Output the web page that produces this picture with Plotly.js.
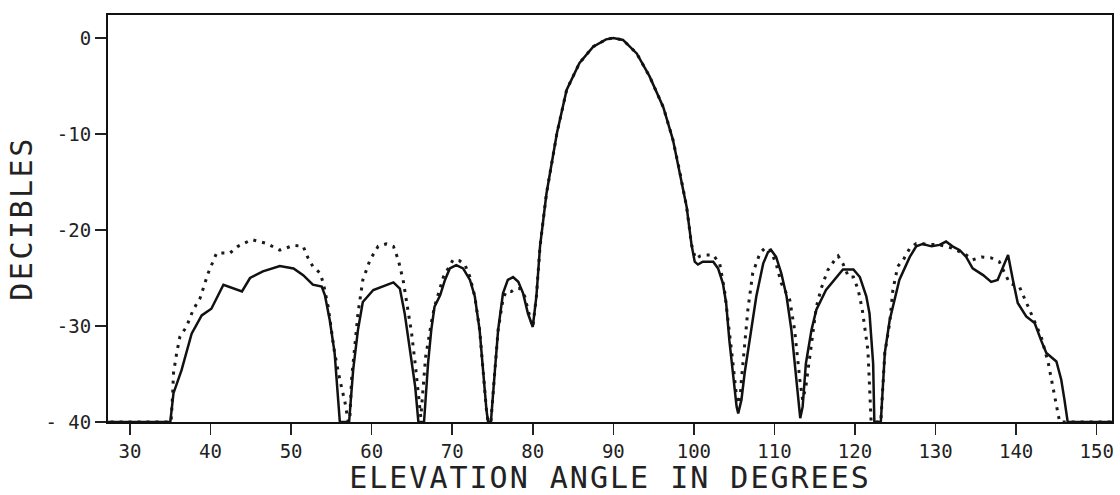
<!DOCTYPE html>
<html>
<head>
<meta charset="utf-8">
<script src="https://cdn.plot.ly/plotly-3.0.1.min.js"></script>
<style>
  html, body { margin: 0; padding: 0; background: #fff; }
  #chart { width: 1120px; height: 495px; }
  .xtitle { letter-spacing: 2px; }
  .ytitle { letter-spacing: 2.5px; }
</style>
</head>
<body>
<div id="chart"></div>
<script>
// Solid curve (elevation angle in degrees, decibels)
const solidAngle = [22, 35.0, 35.4, 36.4, 37.65, 38.9, 40.1, 41.6, 43.9, 44.9, 46.5, 48.6, 50.3, 51.5, 52.7, 53.8, 54.2, 54.8, 55.4, 55.8, 56.05,
  57.2, 57.7, 58.3, 58.9, 60.2, 61.4, 62.7, 63.5, 64.1, 64.7, 65.4, 65.8,
  66.5, 67.0, 67.4, 67.8, 68.5, 69.1, 69.7, 70.5, 71.35, 72.2, 72.8, 73.4, 73.8, 74.25, 74.45,
  74.8, 75.3, 75.7, 76.3, 76.9, 77.55, 78.2, 78.8, 79.4, 80.0, 80.45, 80.9, 81.7, 83.0, 84.2, 85.8, 87.5, 89.1, 90, 91.2, 92.9, 94.5, 96.2, 97.4, 98.2, 99.1, 99.7, 100.1, 100.5, 101.1, 102.4, 103.0, 103.6, 104.0, 104.4, 104.85, 105.3, 105.5,
  105.9, 106.3, 106.9, 107.75, 108.6, 109.2, 109.6, 110.2, 110.85, 111.5, 112.1, 112.7, 113.2,
  113.5, 113.9, 114.6, 115.2, 116.4, 117.7, 118.5, 119.8, 120.6, 121.4, 121.8, 122.25, 122.4,
  123.2, 123.7, 124.3, 125.5, 126.8, 127.6, 128.4, 129.5, 130.5, 131.3, 132.1, 133.0, 133.8, 134.6, 135.9, 136.9, 137.7, 138.35, 139.0, 139.6, 140.2, 141.25, 142.3, 143.1, 143.75, 145.0, 145.6, 146.0, 146.4, 152];
const solidDb = [-40, -40, -37, -34.6, -30.8, -28.9, -28.2, -25.7, -26.4, -25.0, -24.3, -23.75, -24.0, -24.7, -25.7, -25.9, -26.8, -29.4, -32.8, -36.7, -40,
  -40, -34.6, -30.4, -27.5, -26.25, -25.9, -25.45, -26.1, -28.7, -32.2, -36.3, -40,
  -40, -33.9, -30.4, -28, -26.8, -25.2, -24.0, -23.65, -24.0, -25.2, -26.9, -30.4, -34.6, -38.75, -40,
  -40, -34.6, -30.4, -26.6, -25.2, -24.9, -25.4, -26.6, -28.7, -30.1, -26.9, -21.7, -16.2, -9.9, -5.4, -2.6, -0.9, -0.14, 0, -0.2, -1.6, -4.0, -7.2, -10.6, -13.75, -17.6, -21.5, -23.3, -23.6, -23.3, -23.3, -24.0, -25.55, -27.6, -31.5, -34.9, -38.4, -39.1,
  -37.7, -34.9, -31.5, -26.9, -23.5, -22.3, -22.1, -22.8, -24.5, -26.9, -30.4, -35.3, -39.6,
  -38.4, -33.9, -30.4, -28.3, -26.25, -24.9, -24.1, -24.1, -24.9, -26.9, -28.7, -33.9, -40,
  -40, -32.8, -29.4, -25.2, -22.8, -21.7, -21.45, -21.7, -21.55, -21.2, -21.7, -22.1, -22.8, -24.0, -24.7, -25.4, -25.2, -23.8, -22.6, -25.2, -27.6, -29.0, -29.7, -31.5, -32.8, -33.7, -35.6, -37.7, -40, -40];

// Dotted curve
const dottedAngle = [22, 35.1, 35.3, 35.4, 35.8, 36.2, 37.0, 37.85, 38.7, 39.7, 40.75, 42.4, 43.4, 45.1, 46.95, 48.6, 50.3, 51.5, 52.1, 52.7, 53.6, 54.0, 54.6, 55.4, 56.05, 56.7, 57.1,
  57.3, 57.5, 57.9, 58.3, 58.9, 59.8, 60.8, 61.8, 62.7, 63.3, 63.9, 64.5, 64.95, 65.4, 65.8, 66.1,
  66.4, 66.7, 67.4, 67.8, 68.9, 70.1, 70.9, 71.6, 72.2, 72.8, 73.4, 73.8, 74.25, 74.45,
  74.8, 75.3, 75.7, 76.3, 76.7, 77.35, 77.8, 78.4, 79.0, 79.4, 80.0, 80.45, 80.9, 81.7, 83.0, 84.2, 85.8, 87.5, 89.1, 90, 91.2, 92.9, 94.5, 96.2, 97.4, 98.2, 99.1, 99.7, 100.2, 100.8, 101.4, 102.4, 103.2, 103.8, 104.4, 104.85, 105.3, 105.7,
  105.9, 106.3, 106.7, 107.3, 108.2, 108.8, 109.4, 110.2, 110.85, 111.9, 112.5, 113.15, 113.5,
  113.9, 114.4, 114.8, 115.2, 115.8, 116.6, 117.5, 117.9, 118.5, 119.2, 119.8, 120.4, 120.9, 121.2, 121.6, 122.0,
  123.2, 123.7, 124.3, 124.7, 125.3, 126.0, 126.8, 127.6, 128.9, 130.5, 132.1, 133.8, 134.6, 135.7, 136.9, 137.9, 139.2, 140.4, 141.5, 142.6, 143.1, 144.0, 144.4, 144.85, 145.2, 145.4, 152];
const dottedDb = [-40, -40, -37, -34.9, -32.8, -31.1, -30.1, -28.3, -27.1, -24.5, -22.4, -22.4, -21.7, -21.0, -21.4, -22.1, -21.6, -21.7, -22.9, -23.8, -24.5, -25.55, -28, -32.8, -35.6, -38, -40,
  -39.4, -35.6, -32.2, -28.7, -25.2, -23.1, -21.7, -21.45, -21.7, -23.1, -25.2, -28.3, -30.7, -33.9, -37, -39.5,
  -36.3, -33.2, -29.7, -28, -24.9, -23.1, -23.2, -23.65, -24.9, -26.9, -30.4, -34.6, -38.75, -40,
  -40, -34.6, -30.4, -27.2, -26.4, -26.4, -26.1, -26.1, -26.9, -28.3, -30.1, -26.9, -21.7, -16.2, -9.9, -5.4, -2.6, -0.9, -0.14, 0, -0.2, -1.6, -4.0, -7.2, -10.6, -13.75, -17.6, -21.5, -23.0, -22.7, -22.6, -22.6, -23.5, -26.25, -30.4, -33.9, -37.4, -38.1,
  -35.6, -31.5, -28.3, -24.5, -22.4, -21.9, -21.9, -23.5, -25.55, -27.3, -30.4, -35.6, -37.7,
  -36.3, -33.2, -30.4, -28, -26.1, -24.2, -23.1, -22.7, -23.5, -24.9, -24.9, -26.25, -28.3, -30.1, -32.5, -40,
  -40, -32.8, -29.7, -26.25, -23.8, -23.1, -21.9, -21.4, -21.45, -21.55, -21.9, -22.6, -23.1, -22.8, -22.9, -23.3, -25.55, -25.9, -28, -30.1, -31.1, -33.9, -35.6, -37.4, -39.1, -40, -40];

const xTickVals = [30, 40, 50, 60, 70, 80, 90, 100, 110, 120, 130, 140, 150];
const xTickText = ["30", "40", "50", "60", "70", "80", "90", "100", "110", "120", "130", "140", "150"];
const yTickVals = [-40, -30, -20, -10, 0];
const yTickText = ["- 40", "-30", "-20", "-10", "0"];

const fontFam = "DejaVu Sans Mono, Liberation Mono, monospace";

const traces = [
  {
    x: dottedAngle, y: dottedDb, type: 'scatter', mode: 'lines',
    line: { color: '#1a1a1a', width: 3, dash: '3px,6px' },
    hoverinfo: 'skip'
  },
  {
    x: solidAngle, y: solidDb, type: 'scatter', mode: 'lines',
    line: { color: '#111', width: 2.5 },
    hoverinfo: 'skip'
  }
];

const layout = {
  width: 1120, height: 495,
  margin: { l: 108, r: 8, t: 15, b: 73 },
  paper_bgcolor: '#fff', plot_bgcolor: '#fff',
  showlegend: false,
  font: { family: fontFam, color: '#222' },
  xaxis: {
    range: [27.27, 151.9],
    tickvals: xTickVals, ticktext: xTickText,
    ticks: 'outside', ticklen: 11, tickwidth: 1.5, tickcolor: '#222',
    showline: true, linewidth: 2, linecolor: '#111', mirror: true,
    showgrid: false, zeroline: false,
    tickfont: { family: fontFam, size: 19, color: '#222' },
    title: { text: 'ELEVATION ANGLE IN DEGREES', font: { family: fontFam, size: 30, color: '#222' }, standoff: 8 },
    automargin: false
  },
  yaxis: {
    range: [-40, 2.4],
    tickvals: yTickVals, ticktext: yTickText,
    ticks: 'outside', ticklen: 11, tickwidth: 1.5, tickcolor: '#222',
    showline: true, linewidth: 2, linecolor: '#111', mirror: true,
    showgrid: false, zeroline: false,
    tickfont: { family: fontFam, size: 19, color: '#222' },
    title: { text: 'DECIBLES', font: { family: fontFam, size: 30, color: '#222' }, standoff: 4 },
    automargin: false
  }
};

Plotly.newPlot('chart', traces, layout, { staticPlot: true, displayModeBar: false });
</script>
</body>
</html>
